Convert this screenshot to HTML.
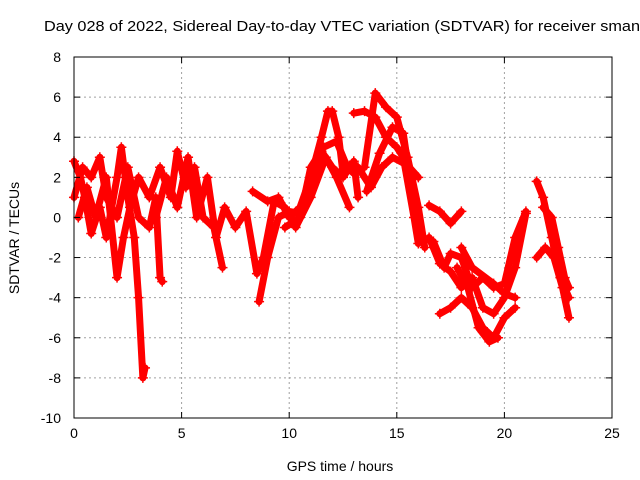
<!DOCTYPE html>
<html><head><meta charset="utf-8"><style>
body{margin:0;background:#fff;overflow:hidden;}
svg{display:block;font-family:"Liberation Sans",sans-serif;}
</style></head><body>
<svg id="chart" width="640" height="480">
<text x="44" y="31" font-size="14.5" textLength="596" lengthAdjust="spacingAndGlyphs">Day 028 of 2022, Sidereal Day-to-day VTEC variation (SDTVAR) for receiver sman</text>
<g id="grid"></g><g id="marks"></g><g id="axes"></g>
<text x="340" y="471" font-size="14" text-anchor="middle">GPS time / hours</text>
<text transform="translate(19,238) rotate(-90)" font-size="14" text-anchor="middle">SDTVAR / TECUs</text>
</svg>
<script>
const xTicks=[0,5,10,15,20,25];
const yTicks=[8,6,4,2,0,-2,-4,-6,-8,-10];
const trackA1=[[0,2.8],[0.3,2],[0.5,1],[0.8,-0.8],[1.2,0.5],[1.5,-1],[2,2],[2.2,3.5],[2.5,1],[2.8,-1],[3.0,-4],[3.2,-8],[3.3,-7.5]];
const trackA2=[[0,1],[0.4,2.5],[0.8,2],[1.2,3],[1.5,1],[2,0],[2.5,2.5],[3,0],[3.5,-0.5],[3.8,1],[4,-3],[4.1,-3.2]];
const trackA3=[[0.2,0],[0.6,1.5],[1,0],[1.5,2],[2,-3],[2.3,-1],[2.6,0.5],[3.0,2],[3.5,1],[4,2.5],[4.5,1],[4.8,3.3],[5.2,1.5],[5.6,2.5],[6,0],[6.5,-0.5],[6.9,-2.5]];
const trackA4=[[3.8,0],[4.3,2],[4.8,0.5],[5.3,3],[5.7,0],[6.2,2],[6.6,-1],[7,0.5],[7.5,-0.5],[8,0.3],[8.5,-2.8],[8.8,-2],[9.3,0.8],[9.8,0.5],[10.3,-0.5],[11,1],[11.7,3],[12.2,2],[12.8,0.5]];
const trackA5=[[8.3,1.3],[9,0.8],[9.5,1],[10,0],[10.5,0.5],[11,2],[11.5,4],[11.8,5.3],[12.0,5.3],[12.3,4],[12.5,2.2]];
const trackA6=[[8.6,-4.2],[9,-2],[9.5,0],[10,0.3],[10.5,0.2],[11,1.5],[11.5,3.3],[12,2.5],[12.5,2],[13,2.8],[13.2,1]];
const trackA7=[[9.8,-0.5],[10.5,0],[11,2.5],[11.6,3.5],[12.2,3.8],[12.7,2.5],[13,2.2]];
const trackB1=[[13,5.2],[13.5,5.3],[14,5],[14.5,4],[15,3.5],[15.3,3],[15.8,0],[16,-1.3]];
const trackB2=[[13.5,2.5],[14,6.2],[14.5,5.5],[15,5],[15.5,3],[16,0.5],[16.3,-1.5]];
const trackB3=[[13.2,2.5],[13.8,1.5],[14.3,2.5],[14.8,3],[15.5,2.6],[16,2]];
const trackB4=[[13.6,1.3],[14.2,3.2],[14.8,4.5],[15.3,4.2],[15.6,2],[16,-0.5]];
const trackB5=[[16.5,0.6],[17,0.3],[17.5,-0.3],[18,0.3]];
const trackC1=[[16.7,-1.2],[17.2,-2.5],[17.5,-1.8],[18,-2],[18.5,-3.5],[19,-3],[19.5,-3.5],[20,-3.3],[20.5,-1],[21,0.3]];
const trackC2=[[16.5,-1],[17,-2.3],[17.5,-2.7],[18,-3.5],[18.5,-3],[19,-4.5],[19.5,-4.8],[20,-4],[20.5,-2.5],[21,0.2]];
const trackC3=[[17,-4.8],[17.5,-4.5],[18,-4],[18.5,-4.5],[19,-5.5],[19.5,-6],[20,-5],[20.5,-4.5]];
const trackC4=[[17.8,-2.5],[18.3,-3.5],[18.8,-5.5],[19.3,-6.2],[19.7,-6]];
const trackC5=[[18,-1.5],[18.5,-2.5],[19.5,-3.3],[20,-3.8],[20.5,-4]];
const trackD1=[[21.5,1.8],[21.8,1],[22.2,-1],[22.6,-3],[23,-4]];
const trackD2=[[21.5,-2],[21.9,-1.5],[22.3,-2],[22.7,-3.5],[23,-5]];
const trackD3=[[21.8,0.5],[22.2,0],[22.5,-1.5],[22.8,-3],[23,-3.5]];
const tracks=[trackA1,trackA2,trackA3,trackA4,trackA5,trackA6,trackA7,trackB1,trackB2,trackB3,trackB4,trackB5,trackC1,trackC2,trackC3,trackC4,trackC5,trackD1,trackD2,trackD3];

const L=74,R=612,T=57,B=418;
const xs=t=>L+(t-0)/25*(R-L);
const ys=v=>B-(v+10)/18*(B-T);
const NS="http://www.w3.org/2000/svg";
function mk(tag,attrs,parent){const e=document.createElementNS(NS,tag);for(const k in attrs)e.setAttribute(k,attrs[k]);parent.appendChild(e);return e;}
const grid=document.getElementById('grid'),axes=document.getElementById('axes'),marks=document.getElementById('marks');
xTicks.forEach(t=>{const x=xs(t);
 if(t>0&&t<25){const g=mk('line',{x1:x,x2:x,y1:T,y2:B,stroke:'#a0a0a0','stroke-dasharray':'2,3'},grid);
 
 }
 mk('line',{x1:x,x2:x,y1:B,y2:B-6,stroke:'#000'},axes);mk('line',{x1:x,x2:x,y1:T,y2:T+6,stroke:'#000'},axes);
 const lb=mk('text',{x:x,y:B+20,'font-size':14,'text-anchor':'middle'},axes);lb.textContent=t;
 
 });
yTicks.forEach(v=>{const y=ys(v);
 if(v>-10&&v<8){const g=mk('line',{x1:L,x2:R,y1:y,y2:y,stroke:'#a0a0a0','stroke-dasharray':'2,3'},grid);
 
 }
 mk('line',{x1:L,x2:L+6,y1:y,y2:y,stroke:'#000'},axes);mk('line',{x1:R,x2:R-6,y1:y,y2:y,stroke:'#000'},axes);
 const lb=mk('text',{x:L-13,y:y+5,'font-size':14,'text-anchor':'end'},axes);lb.textContent=v;
 
 });
const fr=mk('rect',{x:L,y:T,width:R-L,height:B-T,fill:'none',stroke:'#000'},axes);


tracks.forEach(tr=>{
 const pl=mk('polyline',{points:tr.map(p=>xs(p[0])+','+ys(p[1])).join(' '),fill:'none',stroke:'#f00','stroke-width':7,'stroke-linejoin':'round','stroke-linecap':'round'},marks);
 
 
 tr.forEach(p=>{const x=xs(p[0]),y=ys(p[1]);
  const m=mk('path',{d:`M${x-5},${y}H${x+5}M${x},${y-5}V${y+5}`,stroke:'#f00','stroke-width':1.5},marks);
  
  });
});
</script>
</body></html>
